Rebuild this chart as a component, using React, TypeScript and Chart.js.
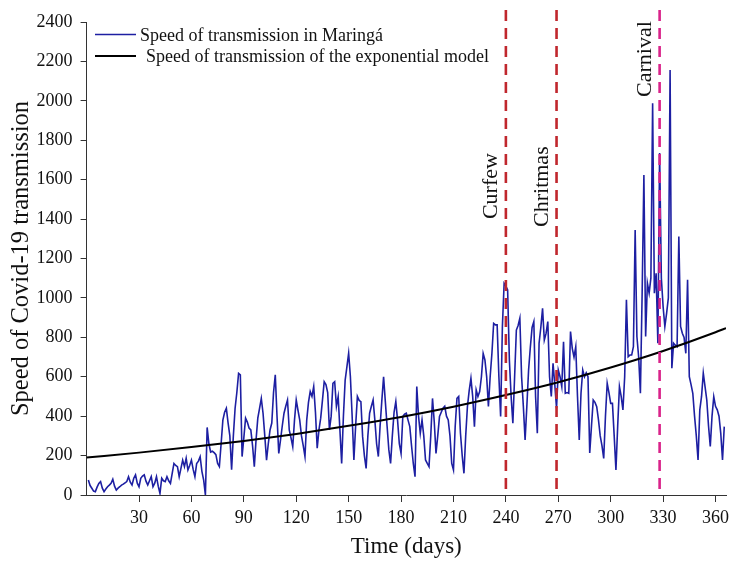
import React, { useEffect, useRef } from "react";
import { Chart, registerables } from "chart.js";

Chart.register(...registerables);

// Daily speed of transmission in Maringá (day 1 .. 365)
const dailySpeed: number[] = [
  76, 48, 34, 20, 17, 40, 59, 68, 35, 17,
  30, 42, 50, 59, 80, 45, 25, 35, 42, 50,
  55, 62, 68, 93, 65, 51, 85, 102, 60, 42,
  85, 96, 102, 70, 51, 72, 93, 42, 60, 93,
  45, 8, 85, 72, 68, 93, 72, 59, 110, 160,
  150, 144, 93, 135, 177, 144, 186, 127, 150, 177,
  130, 93, 160, 172, 194, 120, 76,
  0,
  343,
  260, 218, 222, 215, 205, 160, 144, 260, 380, 420, 440,
  365, 300, 128, 300, 440, 520, 617, 610, 195, 290,
  390, 370, 340, 330, 250, 144, 280, 390, 440, 490,
  415, 300, 177, 260, 330, 365, 520, 610, 400, 211,
  280, 350, 415, 450, 482, 330, 290, 245, 380, 482,
  430, 380, 300, 250, 195, 380, 470, 525, 500, 550,
  420, 237, 330, 390, 480, 575, 560, 520,
  330, 400, 567, 575, 450, 500, 330, 160, 400, 583, 650, 719,
  600, 400, 178, 350, 500, 480, 474, 296, 200, 135,
  300, 415, 450, 482, 380, 260, 195, 350, 480, 600,
  474, 350, 230, 160, 300, 420, 474, 380, 260, 211,
  398, 410, 415, 380, 347, 250, 160, 93, 550, 400,
  313, 381, 300, 178, 160, 144, 300, 490, 372, 211,
  300, 398, 420, 440, 450, 400, 381, 300, 160, 127,
  350, 490, 500, 313, 200, 110, 300, 450, 530, 592,
  500, 347, 533, 500, 525, 600, 718, 685, 600, 449,
  600, 718, 871, 863, 863, 600, 398, 854, 1074, 1060,
  1040, 685, 500, 364, 600, 837, 860, 897, 600, 450,
  279, 450, 634, 750, 850, 880, 500, 313, 770, 850,
  947, 786, 820, 880, 600, 500, 668, 560, 440, 634,
  600, 550, 778, 516, 520, 516, 829, 744, 700, 753,
  500, 279, 516, 634, 600, 620, 600, 213, 350, 482,
  470, 448, 381, 300, 250, 186, 400, 567, 520, 465,
  465, 300, 127, 350, 550, 500, 432, 600, 990, 702,
  710, 710, 753, 1345, 804, 700, 516, 1024, 1624, 804,
  1075, 1024, 1100, 1988, 1024, 1125, 770, 1735, 1100, 956,
  855, 922, 1000, 2157, 643, 770, 760, 753, 1311, 855,
  821, 800, 719, 1092, 601, 560, 516, 400, 300, 178,
  432, 500, 618, 550, 482, 350, 246, 400, 499, 450,
  432, 400, 313, 178, 347,
];

// Exponential model, read at regular days
const modelDays: number[] = [0, 30, 60, 90, 120, 150, 180, 210, 240, 270, 300, 330, 360, 366];
const modelSpeed: number[] = [190, 215, 243, 274, 310, 351, 396, 448, 507, 572, 647, 731, 826, 847];

// Events
const eventDays: number[] = [240, 269, 328];
const eventLabels: string[] = ["Curfew", "Chritmas", "Carnival"];
const eventColors: string[] = ["#c0272d", "#c0272d", "#d9238a"];
const eventLabelStart: number[] = [1400, 1360, 2020];

const xTickValues: number[] = [30, 60, 90, 120, 150, 180, 210, 240, 270, 300, 330, 360];
const seriesLabels: string[] = [
  "Speed of transmission in Maringá",
  "Speed of transmission of the exponential model",
];

const BLUE = "#1d1fa2";
const FONT = '"Liberation Serif", "Times New Roman", serif';

const eventsPlugin = {
  id: "events",
  afterDatasetsDraw(chart: any) {
    const { ctx, scales } = chart;
    const xs = scales.x;
    const ys = scales.y;
    ctx.save();
    eventDays.forEach((d, i) => {
      const px = xs.getPixelForValue(d);
      ctx.strokeStyle = eventColors[i];
      ctx.lineWidth = 2.6;
      ctx.setLineDash([11, 7]);
      ctx.beginPath();
      ctx.moveTo(px, 10);
      ctx.lineTo(px, ys.bottom);
      ctx.stroke();
    });
    ctx.setLineDash([]);
    ctx.fillStyle = "#111";
    ctx.font = `22px ${FONT}`;
    ctx.textAlign = "left";
    ctx.textBaseline = "alphabetic";
    eventDays.forEach((d, i) => {
      const px = xs.getPixelForValue(d);
      const py = ys.getPixelForValue(eventLabelStart[i]);
      ctx.save();
      ctx.translate(px - 9, py);
      ctx.rotate(-Math.PI / 2);
      ctx.fillText(eventLabels[i], 0, 0);
      ctx.restore();
    });
    ctx.restore();
  },
};

const legendPlugin = {
  id: "customLegend",
  afterDraw(chart: any) {
    const { ctx } = chart;
    ctx.save();
    ctx.font = `18px ${FONT}`;
    ctx.fillStyle = "#111";
    ctx.textBaseline = "middle";
    ctx.textAlign = "left";
    ctx.strokeStyle = BLUE;
    ctx.lineWidth = 1.5;
    ctx.beginPath();
    ctx.moveTo(95, 34.5);
    ctx.lineTo(136, 34.5);
    ctx.stroke();
    ctx.fillText(seriesLabels[0], 140, 36);
    ctx.strokeStyle = "#000";
    ctx.lineWidth = 2;
    ctx.beginPath();
    ctx.moveTo(95, 56);
    ctx.lineTo(136, 56);
    ctx.stroke();
    ctx.fillText(seriesLabels[1], 146, 57);
    ctx.restore();
  },
};

export default function App() {
  const ref = useRef<HTMLCanvasElement | null>(null);

  useEffect(() => {
    if (!ref.current) return;
    const chart = new Chart(ref.current, {
      type: "line",
      data: {
        datasets: [
          {
            label: seriesLabels[1],
            data: modelDays.map((d, i) => ({ x: d, y: modelSpeed[i] })),
            borderColor: "#000",
            borderWidth: 2,
            pointRadius: 0,
            tension: 0.4,
            cubicInterpolationMode: "monotone",
          },
          {
            label: seriesLabels[0],
            data: dailySpeed.map((v, i) => ({ x: i + 1, y: v })),
            borderColor: BLUE,
            borderWidth: 1.6,
            pointRadius: 0,
            tension: 0,
          },
        ],
      },
      options: {
        animation: false,
        responsive: true,
        maintainAspectRatio: false,
        layout: { padding: { top: 22, right: 3, left: 0, bottom: 0 } },
        plugins: {
          legend: { display: false },
          tooltip: { enabled: false },
        },
        scales: {
          x: {
            type: "linear",
            min: 0,
            max: 366,
            afterBuildTicks: (s: any) => {
              s.ticks = xTickValues.map((v) => ({ value: v }));
            },
            afterFit: (s: any) => {
              s.height = 68;
              s.paddingRight = 0;
              s.paddingLeft = 0;
            },
            grid: { drawOnChartArea: false, drawTicks: true, tickLength: 7, color: "#333" },
            border: { display: true, color: "#333", width: 1 },
            ticks: {
              color: "#111",
              font: { family: FONT, size: 18 },
              padding: 5,
              maxRotation: 0,
              autoSkip: false,
              callback: (v: any) => String(v),
            },
            title: {
              display: true,
              text: "Time (days)",
              color: "#111",
              font: { family: FONT, size: 23 },
              padding: { top: 0, bottom: 2 },
            },
          },
          y: {
            min: 0,
            max: 2400,
            afterFit: (s: any) => {
              s.width = 86.6;
            },
            grid: { drawOnChartArea: false, drawTicks: true, tickLength: 6, color: "#333" },
            border: { display: true, color: "#333", width: 1 },
            ticks: {
              stepSize: 200,
              color: "#111",
              font: { family: FONT, size: 18 },
              padding: 8,
              callback: (v: any) => String(v),
            },
            title: {
              display: true,
              text: "Speed of Covid-19 transmission",
              color: "#111",
              font: { family: FONT, size: 24.5 },
              padding: { top: 7, bottom: 0 },
            },
          },
        },
      },
      plugins: [eventsPlugin, legendPlugin],
    });
    return () => chart.destroy();
  }, []);

  return (
    <div style={{ position: "fixed", left: 0, top: 0, width: 729, height: 563, background: "#fff" }}>
      <canvas ref={ref} />
    </div>
  );
}
